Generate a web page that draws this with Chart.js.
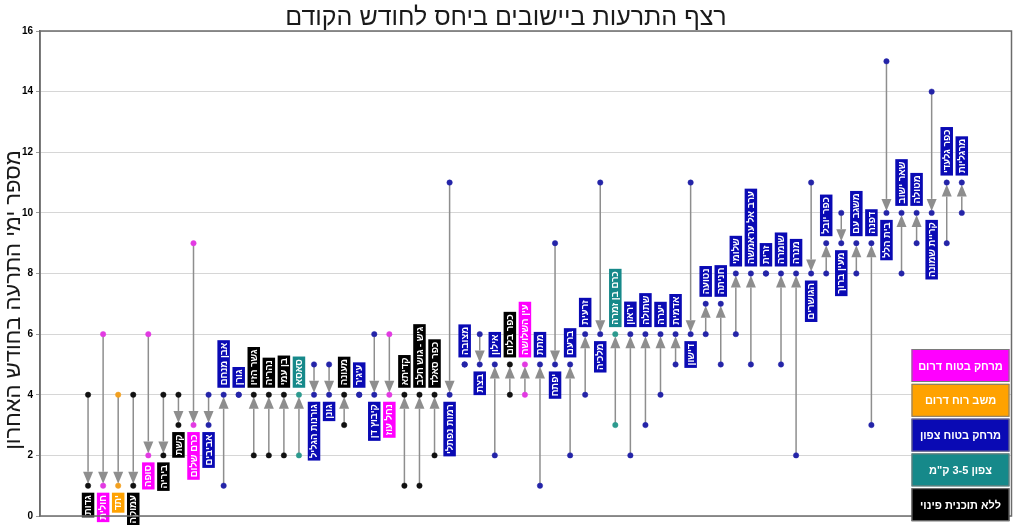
<!DOCTYPE html>
<html>
<head>
<meta charset="utf-8">
<script src="https://cdn.jsdelivr.net/npm/chart.js@4.4.1/dist/chart.umd.min.js"></script>
<style>
  html, body { margin: 0; padding: 0; background: #fff; }
  #wrap { width: 1016px; height: 525px; }
</style>
</head>
<body>
<div id="wrap"><canvas id="alerts" width="1016" height="525"></canvas></div>
<script>
/* ── data ── */
const NAMES = [
  'גדות', 'חולית', 'יתד', 'עמוקה', 'סופה', 'ביריה', 'קשת', 'כרם שלום', 'אביבים', 'אבן מנחם',
  'גורן', 'גשר הזיו', 'נהריה', 'בן עמי', 'סאסא', 'גורנות הגליל', 'גונן', 'מעונה', "ע'ג'ר", 'קיבוץ דן',
  'נחל עוז', 'קדיתא', "ג'ש - גוש חלב", 'כפר סאלד', 'רמות נפתלי', 'מצובה', 'בצת', 'אילון', 'כפר בלום', 'עין השלושה',
  'מתת', 'יפתח', 'ברעם', 'זרעית', 'מלכיה', 'כרם בן זמרה', 'יראון', 'שתולה', 'יערה', 'אדמית',
  'דישון', 'נטועה', 'חניתה', 'שלומי', 'ערב אל עראמשה', 'זרית', 'שומרה', 'מנרה', 'הגושרים', 'כפר יובל',
  'מעין ברוך', 'משגב עם', 'דפנה', 'בית הלל', 'שאר ישוב', 'מטולה', 'קריית שמונה', 'כפר גלעדי', 'מרגליות'
];
// days with alerts, previous month
const PREV = [
  4, 6, 4, 4, 6, 4, 4, 9, 4, 1,
  4, 2, 2, 2, 2, 5, 5, 3, 4, 6,
  6, 1, 1, 2, 11, 5, 6, 2, 4, 4,
  1, 9, 2, 4, 11, 3, 2, 3, 4, 5,
  11, 6, 5, 6, 5, 8, 5, 2, 11, 8,
  10, 8, 3, 15, 8, 9, 14, 9, 10
];
// days with alerts, last month
const CURR = [
  1, 1, 1, 1, 2, 2, 3, 3, 3, 4,
  4, 4, 4, 4, 4, 4, 4, 4, 4, 4,
  4, 4, 4, 4, 4, 5, 5, 5, 5, 5,
  5, 5, 5, 6, 6, 6, 6, 6, 6, 6,
  6, 7, 7, 8, 8, 8, 8, 8, 8, 9,
  9, 9, 9, 10, 10, 10, 10, 11, 11
];
// 0 south safe distance, 1 south wind, 2 north safe distance, 3 north 3-5 km, 4 no plan
const GROUP = [
  4, 0, 1, 4, 0, 4, 4, 0, 2, 2,
  2, 4, 4, 4, 3, 2, 2, 4, 2, 2,
  0, 4, 4, 4, 2, 2, 2, 2, 4, 0,
  2, 2, 2, 2, 2, 3, 2, 2, 2, 2,
  2, 2, 2, 2, 2, 2, 2, 2, 2, 2,
  2, 2, 2, 2, 2, 2, 2, 2, 2
];
const GROUP_NAMES = ['מרחק בטוח דרום', 'משב רוח דרום', 'מרחק בטוח צפון', 'צפון 3-5 ק"מ', 'ללא תוכנית פינוי'];
const Y_TICKS = [0, 2, 4, 6, 8, 10, 12, 14, 16];
const Y_TITLE = 'מספר ימי התרעה בחודש האחרון';

/* ── styles ── */
const BOX_COLORS = ['#ff00ff', '#ffa200', '#0a0ab4', '#16898a', '#000000'];
const DOT_COLORS = ['#e23ae2', '#f2a020', '#2424a8', '#2c9a8e', '#111111'];
const ARROW = '#8e8e8e';
const LABEL_FONT = "bold 9.5px 'Liberation Sans', Arial, sans-serif";

const idx = NAMES.map((_, i) => i);

/* ── arrows, name tags, legend, frame ── */
const overlay = {
  id: 'overlay',
  beforeDatasetsDraw(chart) {
    const { ctx, scales: { x, y } } = chart;
    ctx.save();
    ctx.strokeStyle = ARROW;
    ctx.fillStyle = ARROW;
    ctx.lineWidth = 1.5;
    idx.forEach(i => {
      if (PREV[i] === CURR[i]) return;
      const px = x.getPixelForValue(i);
      const y0 = y.getPixelForValue(PREV[i]);
      const y1 = y.getPixelForValue(CURR[i]);
      const dir = y1 > y0 ? 1 : -1;
      const tip = y1 - dir * 2;
      const base = tip - dir * 12;
      ctx.beginPath(); ctx.moveTo(px, y0); ctx.lineTo(px, base); ctx.stroke();
      ctx.beginPath();
      ctx.moveTo(px, tip); ctx.lineTo(px - 5, base); ctx.lineTo(px + 5, base);
      ctx.closePath(); ctx.fill();
    });
    ctx.restore();
  },
  afterDatasetsDraw(chart) {
    const { ctx, scales: { x, y } } = chart;
    ctx.save();
    ctx.font = LABEL_FONT;
    ctx.direction = 'rtl';
    ctx.textAlign = 'center';
    ctx.textBaseline = 'middle';
    idx.forEach(i => {
      const px = x.getPixelForValue(i);
      const cy = y.getPixelForValue(CURR[i]);
      const down = PREV[i] > CURR[i];
      const len = ctx.measureText(NAMES[i]).width + 5;
      const gap = 7;
      const thick = 12.5;
      ctx.save();
      ctx.translate(px, cy);
      ctx.rotate(-Math.PI / 2);
      const x0 = down ? -gap - len : gap;
      ctx.fillStyle = BOX_COLORS[GROUP[i]];
      ctx.fillRect(x0, -thick / 2, len, thick);
      ctx.fillStyle = '#fff';
      ctx.fillText(NAMES[i], x0 + len / 2, 0.5);
      ctx.restore();
    });
    ctx.restore();
  },
  afterDraw(chart) {
    const { ctx, chartArea: a } = chart;
    ctx.save();
    // frame
    ctx.strokeStyle = '#6b6b6b';
    ctx.lineWidth = 1.5;
    ctx.strokeRect(a.left, a.top, a.right - a.left, a.bottom - a.top);
    // y axis title (sits lower than the axis middle in the original)
    ctx.save();
    ctx.translate(14, 300);
    ctx.rotate(-Math.PI / 2);
    ctx.font = "22px 'Liberation Sans', Arial, sans-serif";
    ctx.direction = 'rtl';
    ctx.textAlign = 'center';
    ctx.textBaseline = 'middle';
    ctx.fillStyle = '#1a1a1a';
    ctx.fillText(Y_TITLE, 0, 0);
    ctx.restore();
    // legend
    const w = 98, h = 33, step = 34.8;
    const lx = a.right - w - 2;
    const ly = 349;
    ctx.font = "bold 11px 'Liberation Sans', Arial, sans-serif";
    ctx.direction = 'rtl';
    ctx.textAlign = 'center';
    ctx.textBaseline = 'middle';
    GROUP_NAMES.forEach((name, g) => {
      const top = ly + g * step;
      ctx.fillStyle = BOX_COLORS[g];
      ctx.fillRect(lx, top, w, h);
      ctx.strokeStyle = '#7a7a7a';
      ctx.lineWidth = 1;
      ctx.strokeRect(lx + 0.5, top + 0.5, w - 1, h - 1);
      ctx.fillStyle = '#fff';
      ctx.fillText(name, lx + w / 2, top + h / 2 + 1);
    });
    ctx.restore();
  }
};

new Chart(document.getElementById('alerts'), {
  type: 'scatter',
  data: {
    datasets: [
      {
        label: 'prev',
        data: idx.map(i => ({ x: i, y: PREV[i] })),
        pointRadius: 2.7,
        pointBackgroundColor: GROUP.map(g => DOT_COLORS[g]),
        pointBorderColor: GROUP.map(g => DOT_COLORS[g]),
        pointBorderWidth: 0.5,
      },
      {
        label: 'curr',
        data: idx.map(i => ({ x: i, y: CURR[i] })),
        pointRadius: 2.7,
        pointBackgroundColor: GROUP.map(g => DOT_COLORS[g]),
        pointBorderColor: GROUP.map(g => DOT_COLORS[g]),
        pointBorderWidth: 0.5,
      }
    ]
  },
  options: {
    responsive: false,
    animation: false,
    clip: false,
    layout: { padding: { left: 0, right: 4, top: 0, bottom: 5 } },
    plugins: {
      legend: { display: false },
      tooltip: { enabled: false },
      title: {
        display: true,
        text: 'רצף התרעות ביישובים ביחס לחודש הקודם',
        color: '#1a1a1a',
        font: { family: "'Liberation Sans Narrow', 'Liberation Sans', Arial, sans-serif", size: 25, weight: 'normal', lineHeight: 1.0 },
        padding: { top: 6, bottom: 0 }
      }
    },
    scales: {
      x: {
        type: 'linear',
        display: false,
        min: -3.19,
        max: 61.3
      },
      y: {
        min: 0,
        max: 16,
        afterFit: s => { s.width = 40; },
        afterBuildTicks: s => { s.ticks = Y_TICKS.map(v => ({ value: v })); },
        grid: { color: '#d6d6d6', tickLength: 4, tickColor: '#9a9a9a' },
        border: { color: '#6b6b6b', width: 1.5 },
        ticks: {
          color: '#000',
          padding: 3,
          font: { family: "'Liberation Sans Narrow', 'Liberation Sans', Arial, sans-serif", size: 10, weight: 'bold' }
        },
        title: { display: false }
      }
    }
  },
  plugins: [overlay]
});
</script>
</body>
</html>
